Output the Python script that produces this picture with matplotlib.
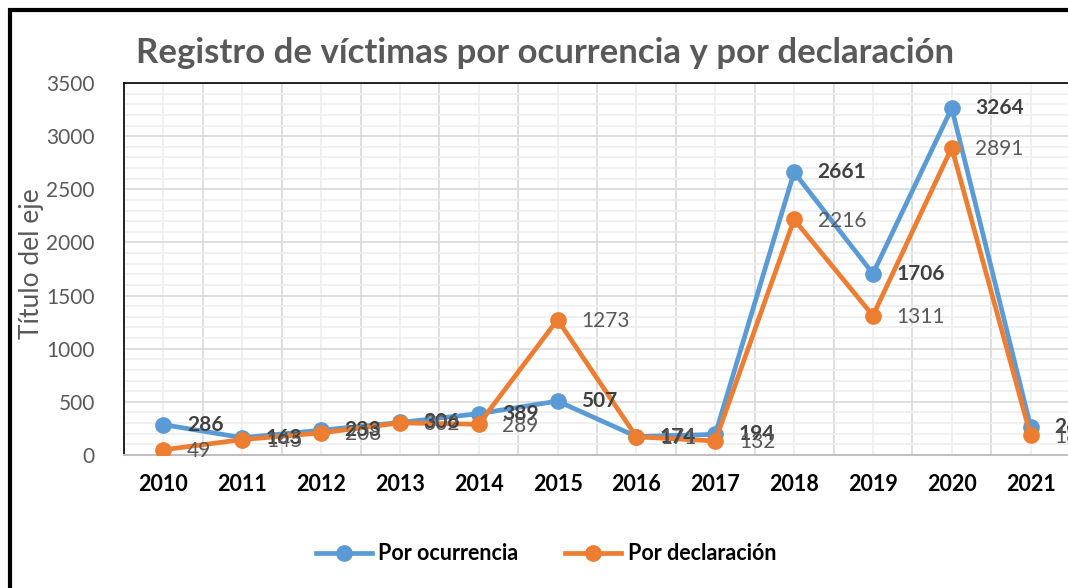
import numpy as np
import matplotlib
matplotlib.use("Agg")
from matplotlib import pyplot as plt
from matplotlib.patches import Rectangle
from matplotlib.ticker import MultipleLocator, FixedLocator

plt.rcParams['font.family'] = ['Lato', 'DejaVu Sans']

# Data
years = ["2010", "2011", "2012", "2013", "2014", "2015", "2016", "2017", "2018", "2019", "2020", "2021"]
ocurrencia = [286, 163, 233, 306, 389, 507, 174, 194, 2661, 1706, 3264, 268]
declaracion = [49, 145, 208, 302, 289, 1273, 171, 132, 2216, 1311, 2891, 185]

blue = "#5B9BD5"
orange = "#ED7D31"
dark = "#404040"
gray = "#595959"

W, H = 1068, 588
fig = plt.figure(figsize=(W / 100, H / 100), dpi=100)
ax = fig.add_axes([124 / W, 1 - 455 / H, (1070 - 124) / W, (455 - 83) / H])

x = np.arange(len(years))
ax.plot(x, ocurrencia, color=blue, lw=3.4, marker="o", ms=11, label="Por ocurrencia", zorder=3)
ax.plot(x, declaracion, color=orange, lw=3.4, marker="o", ms=11, label="Por declaración", zorder=4)

# data labels to the right of each point (overlaps kept as in the original)
for xi, v in zip(x, ocurrencia):
    ax.annotate(str(v), (xi, v), xytext=(17, 0), textcoords="offset points",
                ha="left", va="center", fontsize=15, fontweight="bold", color=dark, zorder=5)
for xi, v in zip(x, declaracion):
    ax.annotate(str(v), (xi, v), xytext=(17, -1), textcoords="offset points",
                ha="left", va="center", fontsize=15, color=gray, zorder=5)

ax.set_xlim(-0.5, len(years) - 0.5)
ax.set_ylim(0, 3500)

ax.set_xticks(x)
ax.set_xticklabels(years, fontsize=15.5, fontweight="bold", color="black")
ax.tick_params(axis="x", length=0, pad=14)
ax.set_yticks(np.arange(0, 3501, 500))
ax.tick_params(axis="y", length=0, labelsize=15, labelcolor=gray, pad=21)

# grid: darker major lines, light minor lines
ax.xaxis.set_minor_locator(FixedLocator(np.arange(-0.5, len(years), 1)))
ax.yaxis.set_minor_locator(MultipleLocator(100))
ax.grid(which="major", axis="y", color="#d9d9d9", lw=1.2)
ax.grid(which="minor", axis="y", color="#eeeeee", lw=1.2)
ax.grid(which="minor", axis="x", color="#d9d9d9", lw=1.2)
ax.grid(which="major", axis="x", color="#eeeeee", lw=1.2)
ax.tick_params(which="minor", length=0)
ax.set_axisbelow(True)

for s in ["left", "top", "right"]:
    ax.spines[s].set_color("black")
    ax.spines[s].set_linewidth(1.2)
ax.spines["bottom"].set_color("#bfbfbf")
ax.spines["bottom"].set_linewidth(1.5)

fig.text(32 / W, 1 - 264 / H, "Título del eje", rotation=90, ha="center", va="center",
         fontsize=19, color=gray)
fig.text(545 / W, 1 - 53 / H, "Registro de víctimas por ocurrencia y por declaración",
         ha="center", va="center", fontsize=25, fontweight="bold", color=gray)

leg = fig.legend(loc="center", bbox_to_anchor=(546 / W, 1 - 554 / H), ncol=2, frameon=False,
                 prop={"size": 15.5, "weight": "bold"}, handlelength=2.6, columnspacing=2.2,
                 handletextpad=0.3)

# outer chart border
fig.patches.append(Rectangle((10 / W, -0.1), 1.2, 1.1 - 10 / H, transform=fig.transFigure,
                             fill=False, edgecolor="black", lw=3))

fig.savefig("out.png", dpi=100)
